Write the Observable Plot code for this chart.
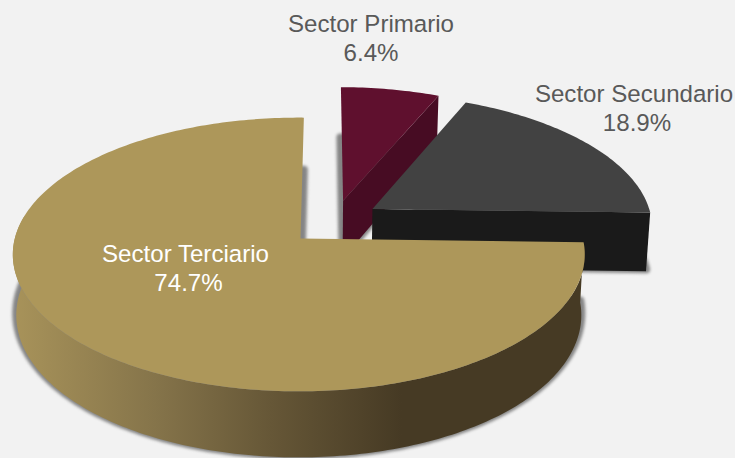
<!DOCTYPE html>
<html>
<head>
<meta charset="utf-8">
<style>html,body{margin:0;padding:0;background:#f2f2f2}svg{display:block}</style>
<script src="https://cdn.jsdelivr.net/npm/d3@7"></script>
<script src="https://cdn.jsdelivr.net/npm/@observablehq/plot@0.6"></script>
</head>
<body>
<div id="chart"></div>
<script>
// Data
const sectors = ["Sector Primario", "Sector Secundario", "Sector Terciario"];
const shares = [6.4, 18.9, 74.7];

// Styles and layout (kept apart from the data)
const topColors = ["#5f102e", "#424242", "#ad975a"];
const wallColors = ["#470c23", "#1a1a1a", "url(#tanWall)"];
const textColors = ["#595959", "#595959", "#ffffff"];
const explodeU = [0.155, 0.26, -0.006];
const explodeV = [0.29, 0.225, 0];
const apexU = [0, 0, 0.006];
const closeEdge = [0, 0, 0.6];
const nameX = [70.5, 333.5, -115];
const nameY = [214.5, 144.5, -16];
const valueX = [70.5, 336.5, -112];
const valueY = [185.5, 115.5, -45];
const startAngle = 0.5;

const rx = 284, ry = 135, persp = 0.1168;
const project = (u, v, bottom) => {
  const w = 1 + persp * v;
  let X = rx * u / w, Y = ry * v / w;
  if (bottom) { X *= 0.988; Y -= 60 - 6 * v; }
  return [X, Y];
};
const rad = (d) => d * Math.PI / 180;

// Slice angles come straight from the shares
let cum = startAngle;
const slices = shares.map((s, i) => {
  const a0 = cum, a1 = cum + s * 3.6;
  cum = a1;
  return {i, a0, a1: a1 + closeEdge[i], u0: explodeU[i], v0: explodeV[i], apex: explodeU[i] + apexU[i]};
});
const rimPoint = (s, deg) => [s.u0 + Math.sin(rad(deg)), s.v0 + Math.cos(rad(deg))];
const arcDegs = (a, b) => d3.range(a, b, 1).concat([b]);

const polygon = (key, pts) => pts.map(([x, y]) => ({key, x, y}));
const face = (s, bottom) => {
  const pts = [project(s.apex, s.v0, bottom)];
  for (const d of arcDegs(s.a0, s.a1)) pts.push(project(...rimPoint(s, d), bottom));
  return pts;
};
// Wall standing on the radial edge at angle a of a slice
const radialWall = (s, a) => {
  const c = rimPoint(s, a);
  return [project(s.apex, s.v0, false), project(...c, false), project(...c, true), project(s.apex, s.v0, true)];
};
// Wall standing on the front of the rim
const rimWall = (s, a, b) => {
  const ds = arcDegs(a, b);
  return [
    ...ds.map((d) => project(...rimPoint(s, d), false)),
    ...ds.slice().reverse().map((d) => project(...rimPoint(s, d), true))
  ];
};

const lineOpts = (fill) => ({x: "x", y: "y", z: "key", fill, stroke: "none", curve: "linear"});
const shadow = {fill: "#858585", stroke: "#858585", strokeWidth: 8, strokeLinejoin: "round", imageFilter: "blur(1.5px)"};

const gradient = () => {
  const defs = d3.create("svg:defs");
  const g = defs.append("linearGradient").attr("id", "tanWall")
    .attr("x1", 0).attr("x2", 1).attr("y1", 0).attr("y2", 0);
  [[0, "#a8935a"], [0.25, "#85744a"], [0.45, "#665737"], [0.68, "#463a24"], [1, "#463a24"]]
    .forEach(([o, c]) => g.append("stop").attr("offset", o).attr("stop-color", c));
  return defs.node();
};

const [prim, sec, ter] = slices;
const marks = [gradient];

// Soft shadow under each slice (the bottom face, raised a little and closed)
slices.forEach((s) => {
  const pts = face(s, true).map(([x, y]) => [x, y + 2]);
  pts.push(pts[0]);
  marks.push(Plot.line(polygon("s" + s.i, pts), {x: "x", y: "y", z: "key", curve: "linear", ...shadow}));
});
// Primary
marks.push(Plot.line(polygon("pw", radialWall(prim, prim.a1)), lineOpts(wallColors[0])));
marks.push(Plot.line(polygon("pf", face(prim, false)), lineOpts(topColors[0])));
// Secondary
marks.push(Plot.line(polygon("sw", radialWall(sec, sec.a1)), lineOpts(wallColors[1])));
marks.push(Plot.line(polygon("sf", face(sec, false)), lineOpts(topColors[1])));
// Tertiary
marks.push(Plot.line(polygon("tw", rimWall(ter, ter.a0, 280)), lineOpts(wallColors[2])));
marks.push(Plot.line(polygon("tf", face(ter, false)), lineOpts(topColors[2])));
// Labels
const textOpts = {
  x: "x", y: "y", text: "t", fill: "c", fontSize: 24.1,
  fontFamily: "'Liberation Sans', Arial, sans-serif", textAnchor: "middle"
};
marks.push(Plot.text(sectors.map((name, i) => ({t: name, x: nameX[i], y: nameY[i], c: textColors[i]})), textOpts));
marks.push(Plot.text(shares.map((v, i) => ({t: `${v.toFixed(1)}%`, x: valueX[i], y: valueY[i], c: textColors[i]})), textOpts));

const chart = Plot.plot({
  width: 735, height: 458, margin: 0,
  style: {background: "#f2f2f2"},
  x: {domain: [-300, 435], range: [0, 735], axis: null},
  y: {domain: [-220, 238], range: [458, 0], axis: null},
  color: {type: "identity"},
  marks
});
document.getElementById("chart").append(chart);
</script>
</body>
</html>
